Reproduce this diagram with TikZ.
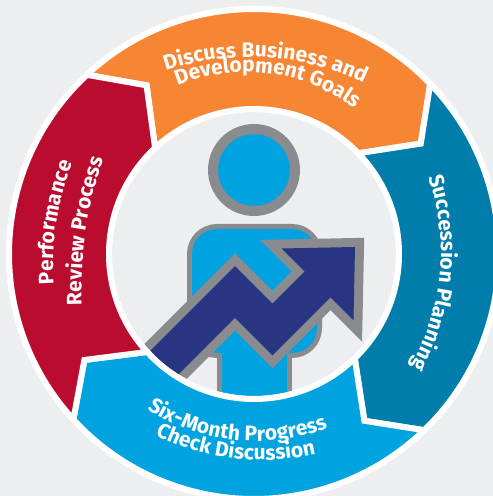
\documentclass[tikz,border=0pt]{standalone}
\usepackage{fontspec}
\setmainfont{Fira Sans}
\usetikzlibrary{decorations.text}
\definecolor{bgc}{HTML}{EDEEF0}
\definecolor{segorange}{HTML}{F68534}
\definecolor{segred}{HTML}{BA0C2F}
\definecolor{segteal}{HTML}{007DAA}
\definecolor{segblue}{HTML}{00A3DF}
\definecolor{arrownavy}{HTML}{283583}
\definecolor{outlinegray}{HTML}{898B8E}
\newcommand\segtext{\color{white}\fontsize{21}{24}\selectfont\bfseries}
% ring segment: colour, start angle, start tip, end angle, end tip
\newcommand\ringseg[5]{%
  \path[fill=#1, draw=white, line width=6, line join=miter]
    ([shift={(254,242)}]#2:245) arc[start angle=#2, end angle=#4, radius=245]
    -- ([shift={(254,242)}]#5:200) -- ([shift={(254,242)}]#4:145)
    arc[start angle=#4, end angle=#2, radius=145]
    -- ([shift={(254,242)}]#3:200) -- cycle;}
% text on arc: cx, cy, radius, start angle, end angle, text
\newcommand\arctext[6]{%
  \path[decorate, decoration={text along path, text align=center, text={|\segtext|#6}}]
    ([shift={(#1,#2)}]#4:#3) arc[start angle=#4, end angle=#5, radius=#3];}
\begin{document}
\begin{tikzpicture}[x=1pt, y=1pt,
  personline/.style={draw=outlinegray, line width=10},
  personfill/.style={fill=segblue}]
\useasboundingbox (0,0) rectangle (493,496);
\fill[bgc] (0,0) rectangle (493,496);
\coordinate (C) at (254,242);
\fill[white] (C) circle[radius=248];
\fill[bgc] (C) circle[radius=142];
% centre figure
\begin{scope}
  \clip (C) circle[radius=142];
  % person
  \path[personline, personfill] (254,326) circle[radius=41];
  \path[personline, rounded corners=25] (192,143) rectangle (317,267);
  \path[personline] (222,40) rectangle (287,155);
  \path[personfill, rounded corners=25] (192,143) rectangle (317,267);
  \path[personfill] (222,40) rectangle (287,155);
  % arrow
  \coordinate (tail) at (85,54);
  \coordinate (peak) at (235,204);
  \coordinate (valley) at (272.5,166.5);
  \coordinate (shaftend) at (322,216);
  \coordinate (barbA) at (281.5,247.5);
  \coordinate (tip) at (355,249);
  \coordinate (barbB) at (353.5,175.5);
  \draw[outlinegray, line width=54.5, miter limit=10] (tail) -- (peak) -- (valley) -- (shaftend);
  \draw[outlinegray, fill=outlinegray, line width=18, miter limit=10] (barbA) -- (tip) -- (barbB) -- cycle;
  \draw[arrownavy, line width=36.5, miter limit=10] (tail) -- (peak) -- (valley) -- (shaftend);
  \fill[arrownavy] (barbA) -- (tip) -- (barbB) -- cycle;
\end{scope}
% ring
\ringseg{segorange}{133}{122.5}{44}{33.5}
\ringseg{segteal}{44}{33.5}{-46}{-56.5}
\ringseg{segblue}{-46}{-56.5}{-137.5}{-148}
\ringseg{segred}{222.5}{212}{133}{122.5}
% texts
\arctext{250}{179}{260}{121.45}{51.45}{Discuss Business and}
\arctext{246}{244}{180}{122.55}{42.55}{Development Goals}
\arctext{208}{244}{233}{29.65}{-40.35}{Succession Planning}
\arctext{328}{231}{275}{196.1}{146.1}{Performance}
\arctext{481.5}{206}{400}{191.5}{151.5}{Review Process}
\arctext{256}{257}{202}{214.1}{314.1}{Six-Month Progress}
\arctext{262}{277}{241}{223.3}{303.3}{Check Discussion}
\end{tikzpicture}
\end{document}
